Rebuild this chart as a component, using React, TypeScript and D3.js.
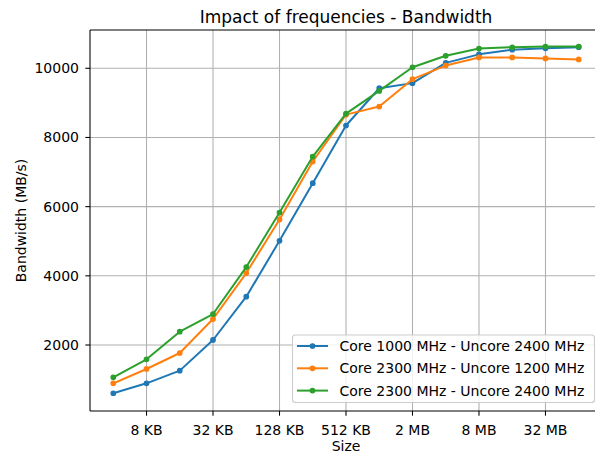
import React from "react";
import * as d3 from "d3";

const sizesKB = [4, 8, 16, 32, 64, 128, 256, 512, 1024, 2048, 4096, 8192, 16384, 32768, 65536];
const seriesNames = [
  "Core 1000 MHz - Uncore 2400 MHz",
  "Core 2300 MHz - Uncore 1200 MHz",
  "Core 2300 MHz - Uncore 2400 MHz",
];
const core1000Uncore2400 = [605, 892, 1259, 2145, 3396, 5013, 6680, 8346, 9424, 9571, 10157, 10403, 10538, 10579, 10610];
const core2300Uncore1200 = [892, 1307, 1769, 2751, 4080, 5630, 7304, 8660, 8895, 9686, 10079, 10313, 10313, 10284, 10255];
const core2300Uncore2400 = [1066, 1586, 2385, 2896, 4253, 5831, 7449, 8690, 9345, 10030, 10362, 10570, 10608, 10628, 10628];
const xTickKB = [8, 32, 128, 512, 2048, 8192, 32768];
const xTickLabels = ["8 KB", "32 KB", "128 KB", "512 KB", "2 MB", "8 MB", "32 MB"];
const yTicks = [2000, 4000, 6000, 8000, 10000];
const colors = ["#1f77b4", "#ff7f0e", "#2ca02c"];

const W = 595;
const H = 455;
const left = 90;
const right = 602;
const top = 30;
const bottom = 411;
const FONT = "DejaVu Sans, sans-serif";
const FS = 14;

export default function App() {
  const seriesValues = [core1000Uncore2400, core2300Uncore1200, core2300Uncore2400];
  const lx0 = Math.log2(sizesKB[0]);
  const lx1 = Math.log2(sizesKB[sizesKB.length - 1]);
  const mx = (lx1 - lx0) * 0.05;
  const x = d3
    .scaleLog()
    .base(2)
    .domain([Math.pow(2, lx0 - mx), Math.pow(2, lx1 + mx)])
    .range([left, right]);
  const y = d3.scaleLinear().domain([92, 11107]).range([bottom, top]);
  const line = d3
    .line<number>()
    .x((_, i) => x(sizesKB[i]))
    .y((d) => y(d));

  const legX = 292.5;
  const legY = 335;
  const legW = 302;
  const legH = 67.5;
  const rowY = [346, 368.3, 390.6];

  return (
    <svg
      width={W}
      height={H}
      style={{ position: "absolute", left: 0, top: 0, background: "#fff" }}
      fontFamily={FONT}
    >
      <rect x={0} y={0} width={W} height={H} fill="#fff" />
      <defs>
        <clipPath id="plotclip">
          <rect x={left} y={top} width={right - left} height={bottom - top} />
        </clipPath>
      </defs>
      {/* grid */}
      {xTickKB.map((t) => (
        <line key={"gx" + t} x1={x(t)} x2={x(t)} y1={top} y2={bottom} stroke="#b0b0b0" strokeWidth={1.07} />
      ))}
      {yTicks.map((t) => (
        <line key={"gy" + t} x1={left} x2={right} y1={y(t)} y2={y(t)} stroke="#b0b0b0" strokeWidth={1.07} />
      ))}
      {/* series */}
      <g clipPath="url(#plotclip)">
        {seriesValues.map((vals, si) => (
          <g key={si}>
            <path d={line(vals) || ""} fill="none" stroke={colors[si]} strokeWidth={2} strokeLinejoin="round" strokeLinecap="square" />
            {vals.map((v, i) => (
              <circle key={i} cx={x(sizesKB[i])} cy={y(v)} r={2.2} fill={colors[si]} stroke={colors[si]} strokeWidth={1.33} />
            ))}
          </g>
        ))}
      </g>
      {/* spines */}
      <line x1={left} x2={left} y1={top} y2={bottom} stroke="#000" strokeWidth={1.07} />
      <line x1={left} x2={right} y1={bottom} y2={bottom} stroke="#000" strokeWidth={1.07} />
      <line x1={left} x2={right} y1={top} y2={top} stroke="#000" strokeWidth={1.07} />
      <line x1={right} x2={right} y1={top} y2={bottom} stroke="#000" strokeWidth={1.07} />
      {/* x ticks */}
      {xTickKB.map((t, i) => (
        <g key={"xt" + t}>
          <line x1={x(t)} x2={x(t)} y1={bottom} y2={bottom + 4.67} stroke="#000" strokeWidth={1.07} />
          <text x={x(t)} y={bottom + 23.5} textAnchor="middle" fontSize={FS} fill="#000">
            {xTickLabels[i]}
          </text>
        </g>
      ))}
      {/* y ticks */}
      {yTicks.map((t) => (
        <g key={"yt" + t}>
          <line x1={left - 4.67} x2={left} y1={y(t)} y2={y(t)} stroke="#000" strokeWidth={1.07} />
          <text x={left - 11} y={y(t)} dy="0.35em" textAnchor="end" fontSize={FS} fill="#000">
            {t}
          </text>
        </g>
      ))}
      {/* labels */}
      <text x={(left + right) / 2} y={451} textAnchor="middle" fontSize={FS} fill="#000">
        Size
      </text>
      <text
        transform={`translate(26, ${(top + bottom) / 2}) rotate(-90)`}
        textAnchor="middle"
        fontSize={FS}
        fill="#000"
      >
        Bandwidth (MB/s)
      </text>
      <text x={(left + right) / 2} y={23} textAnchor="middle" fontSize={17} fill="#000">
        Impact of frequencies - Bandwidth
      </text>
      {/* legend */}
      <rect x={legX} y={legY} width={legW} height={legH} rx={3} ry={3} fill="#fff" fillOpacity={0.8} stroke="#cccccc" strokeWidth={1.07} />
      {seriesNames.map((name, i) => (
        <g key={"leg" + i}>
          <line x1={297} x2={328} y1={rowY[i]} y2={rowY[i]} stroke={colors[i]} strokeWidth={2} />
          <circle cx={312.5} cy={rowY[i]} r={2.2} fill={colors[i]} stroke={colors[i]} strokeWidth={1.33} />
          <text x={339.5} y={rowY[i]} dy="0.35em" fontSize={FS} fill="#000">
            {name}
          </text>
        </g>
      ))}
    </svg>
  );
}
